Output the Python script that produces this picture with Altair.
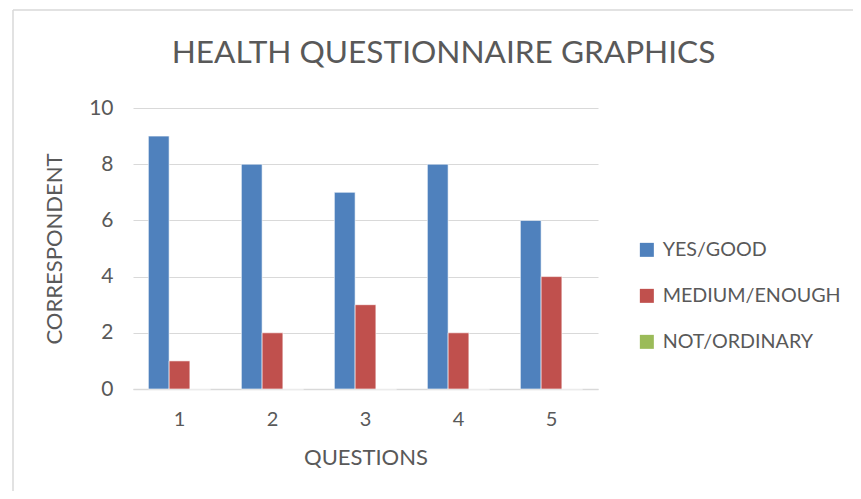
import altair as alt
import pandas as pd

questions = ["1", "2", "3", "4", "5"]
series = ["YES/GOOD", "MEDIUM/ENOUGH", "NOT/ORDINARY"]
yes_good = [9, 8, 7, 8, 6]
medium_enough = [1, 2, 3, 2, 4]
not_ordinary = [0, 0, 0, 0, 0]
colors = ["#4F81BD", "#C0504D", "#9BBB59"]

rows = []
for s, vals in zip(series, [yes_good, medium_enough, not_ordinary]):
    for q, v in zip(questions, vals):
        rows.append({"question": q, "series": s, "value": v})
df = pd.DataFrame(rows)

FONT = "Lato"
GREY = "#595959"

bars = alt.Chart(df).mark_bar(stroke="white", strokeWidth=0.6).encode(
    x=alt.X("question:N", sort=questions,
            scale=alt.Scale(paddingInner=0.33, paddingOuter=0.165),
            axis=alt.Axis(title="QUESTIONS", labelAngle=0, labelFontSize=20,
                          labelColor=GREY, labelFont=FONT, labelPadding=20,
                          titleFontSize=22, titleFont=FONT, titleColor=GREY,
                          titleFontWeight="normal", titlePadding=18,
                          ticks=False, grid=False, domain=True,
                          domainColor="#d9d9d9", domainWidth=1.5)),
    xOffset=alt.XOffset("series:N", sort=series),
    y=alt.Y("value:Q", scale=alt.Scale(domain=[0, 10]),
            axis=alt.Axis(title="CORRESPONDENT", values=[0, 2, 4, 6, 8, 10],
                          labelFontSize=21, labelColor=GREY, labelFont=FONT,
                          labelPadding=20, titleFontSize=22, titleFont=FONT,
                          titleColor=GREY, titleFontWeight="normal",
                          titlePadding=22, ticks=False, domain=False,
                          gridColor="#d9d9d9", gridWidth=1.2)),
    color=alt.Color("series:N", sort=series,
                    scale=alt.Scale(domain=series, range=colors),
                    legend=alt.Legend(title=None, orient="none", legendX=504,
                                      legendY=132, symbolType="square",
                                      symbolSize=196, symbolStrokeWidth=0,
                                      symbolOpacity=1, labelLimit=400,
                                      labelFontSize=19.7, labelFont=FONT,
                                      labelColor=GREY, rowPadding=25,
                                      labelOffset=6)),
)

frame = pd.DataFrame({"k": [0]})
top_rule = alt.Chart(frame).mark_rule(color="#d9d9d9", strokeWidth=1.5).encode(
    x=alt.value(-120), x2=alt.value(730), y=alt.value(-98))
left_rule = alt.Chart(frame).mark_rule(color="#d9d9d9", strokeWidth=1.5).encode(
    x=alt.value(-120), y=alt.value(-98), y2=alt.value(395))

chart = alt.layer(bars, top_rule, left_rule).properties(
    width=465,
    height=281,
    view=alt.ViewBackground(stroke="transparent", strokeWidth=0),
    title=alt.TitleParams("HEALTH QUESTIONNAIRE GRAPHICS", fontSize=31.6,
                          font=FONT, color=GREY, fontWeight="normal",
                          anchor="middle", dx=78, offset=-60),
    autosize=alt.AutoSizeParams(type="none"),
    padding={"left": 125, "top": 100, "right": 255, "bottom": 102},
).configure_view(stroke="transparent", strokeWidth=0).configure(background="white")

chart.save("out.html", embed_options={"renderer": "svg", "actions": False})
